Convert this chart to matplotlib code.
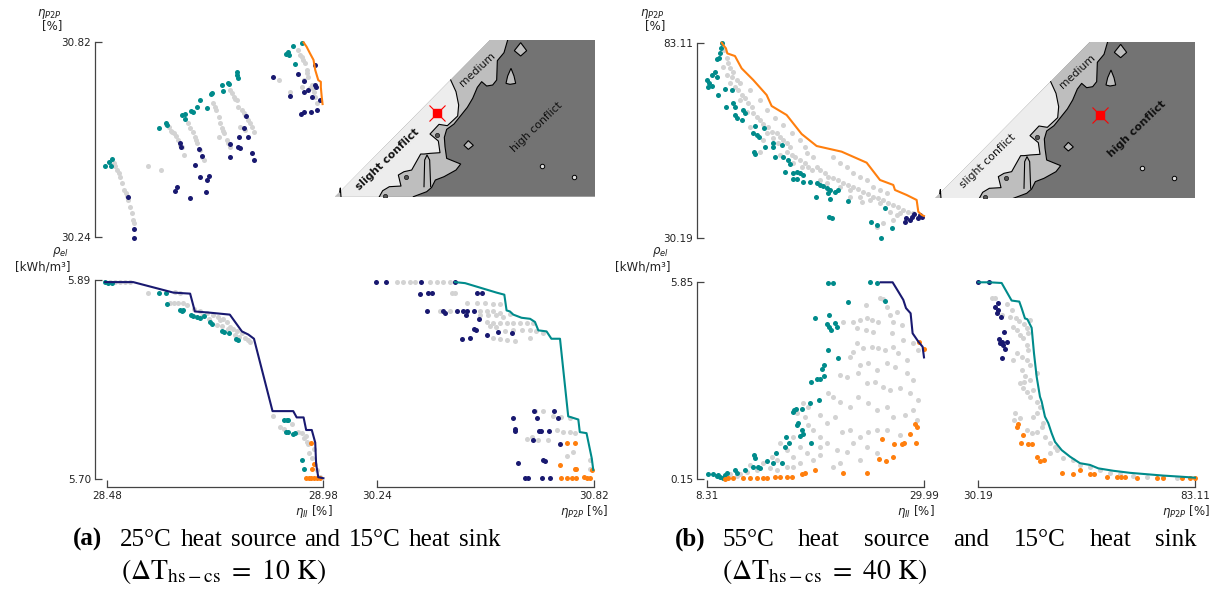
import matplotlib
matplotlib.use('Agg')
import matplotlib.pyplot as plt

W, H = 1220, 590
GRAY = '#d3d3d3'; TEAL = '#008b8b'; NAVY = '#191970'; ORANGE = '#ff7f0e'
DARK = '#737373'; MED = '#bebebe'; LIGHT = '#ededed'

# ---------------- panel (a) : upper scatter (eta_II vs eta_P2P) ----------------
a_tl_gray_x = [28.495,28.499,28.502,28.506,28.510,28.514,28.518,28.524,28.526,28.529,28.533,28.537,28.539,28.541,28.574,28.605,
               28.622,28.627,28.634,28.639,28.645,28.653,28.657,28.615,28.630,28.648,
               28.668,28.672,28.678,28.684,28.686,28.689,28.695,28.699,28.703,
               28.726,28.732,28.738,28.742,28.745,28.751,28.757,28.738,28.765,28.730,28.748,28.760,
               28.765,28.773,28.781,28.784,28.792,28.800,28.807,28.815,28.819,28.788,28.800,28.769,28.777,28.796,28.811,
               28.923,28.931,28.938,28.942,28.946,28.936,28.954,28.958,28.962,28.950,28.904,28.877,28.931,28.966,28.927,28.934,28.944,28.956]
a_tl_gray_y = [30.459,30.450,30.440,30.430,30.420,30.400,30.380,30.370,30.361,30.351,30.331,30.311,30.291,30.282,30.450,30.440,
               30.568,30.556,30.548,30.540,30.529,30.509,30.484,30.575,30.552,30.515,
               30.578,30.563,30.553,30.538,30.528,30.519,30.499,30.479,30.469,
               30.637,30.617,30.598,30.578,30.563,30.548,30.529,30.538,30.509,30.625,30.555,30.520,
               30.677,30.657,30.647,30.627,30.617,30.603,30.588,30.568,30.553,30.568,30.558,30.668,30.650,30.610,30.578,
               30.795,30.774,30.756,30.736,30.716,30.706,30.692,30.672,30.655,30.682,30.672,30.706,30.685,30.637,30.780,30.765,30.726,30.682]
a_tl_teal_x = [28.475,28.483,28.491,28.489,28.600,28.616,28.618,28.653,28.659,28.674,28.678,28.661,28.695,28.689,28.711,28.721,28.723,
               28.746,28.759,28.761,28.749,28.780,28.782,28.781,28.911,28.894,28.901,28.898,28.931,28.915]
a_tl_teal_y = [30.450,30.464,30.471,30.452,30.563,30.580,30.573,30.603,30.606,30.615,30.611,30.592,30.647,30.627,30.624,30.664,30.669,
               30.692,30.699,30.695,30.675,30.731,30.711,30.722,30.808,30.785,30.780,30.790,30.817,30.754]
a_tl_navy_x = [28.527,28.541,28.543,28.649,28.651,28.641,28.637,28.671,28.709,28.692,28.699,28.684,28.695,28.715,28.711,28.765,28.784,
               28.788,28.765,28.801,28.796,28.786,28.815,28.820,28.807,28.864,28.922,28.937,28.962,28.962,28.964,28.935,28.946,28.954,
               28.904,28.973,28.928,28.937,28.952,28.967]
a_tl_navy_y = [30.359,30.264,30.238,30.519,30.507,30.388,30.376,30.356,30.374,30.501,30.482,30.454,30.420,30.422,30.410,30.517,30.509,
               30.504,30.479,30.601,30.563,30.538,30.489,30.469,30.536,30.716,30.724,30.703,30.751,30.692,30.685,30.672,30.677,30.655,
               30.660,30.647,30.606,30.611,30.611,30.617]
a_tl_front_x = [28.935,28.942,28.950,28.958,28.962,28.969,28.975,28.975,28.977,28.979]
a_tl_front_y = [30.818,30.805,30.785,30.766,30.736,30.706,30.701,30.685,30.657,30.635]

# ---------------- panel (a) : lower-left (eta_II vs rho_el) ----------------
a_bl_gray_x = [28.486,28.498,28.509,28.521,28.533,28.575,28.637,28.649,28.625,28.635,28.645,28.656,28.695,28.710,28.726,28.737,
               28.749,28.757,28.741,28.734,28.764,28.772,28.780,28.792,28.799,28.807,28.811,28.863,28.907,28.923,28.931,28.941,
               28.942,28.946,28.958,28.962,28.965,28.972,28.665,28.680,28.700,28.715,28.745,28.760,28.775,28.785,28.880,28.890,
               28.935,28.948,28.955]
a_bl_gray_y = [5.888,5.888,5.888,5.888,5.888,5.878,5.879,5.878,5.868,5.868,5.868,5.868,5.860,5.859,5.857,5.855,
               5.853,5.850,5.852,5.847,5.845,5.843,5.841,5.839,5.835,5.833,5.831,5.760,5.753,5.745,5.744,5.741,
               5.736,5.734,5.729,5.715,5.709,5.702,5.866,5.862,5.856,5.853,5.846,5.843,5.838,5.836,5.750,5.748,
               5.739,5.725,5.720]
a_bl_teal_x = [28.475,28.482,28.490,28.600,28.615,28.618,28.649,28.652,28.656,28.673,28.678,28.689,28.695,28.704,28.718,28.723,
               28.745,28.751,28.761,28.778,28.782,28.890,28.896,28.900,28.894,28.900,28.911,28.915,28.931,28.935]
a_bl_teal_y = [5.888,5.887,5.887,5.878,5.878,5.867,5.861,5.860,5.861,5.857,5.856,5.855,5.854,5.856,5.850,5.848,
               5.841,5.840,5.839,5.834,5.833,5.757,5.757,5.757,5.745,5.745,5.743,5.744,5.718,5.710]
a_bl_orange_x = [28.952,28.960,28.954,28.941,28.947,28.953,28.959,28.965,28.973]
a_bl_orange_y = [5.735,5.715,5.710,5.701,5.701,5.701,5.701,5.701,5.701]
a_bl_front_x = [28.475,28.540,28.633,28.672,28.683,28.714,28.764,28.792,28.807,28.820,28.863,28.911,28.919,28.935,28.941,
                28.954,28.962,28.964,28.969,28.981]
a_bl_front_y = [5.888,5.888,5.878,5.877,5.860,5.859,5.857,5.841,5.838,5.834,5.765,5.765,5.759,5.759,5.747,
                5.747,5.735,5.715,5.702,5.701]

# ---------------- panel (a) : lower-right (eta_P2P vs rho_el) ----------------
a_br_gray_x = [30.292,30.310,30.327,30.341,30.381,30.399,30.417,30.434,30.439,30.448,30.479,30.506,30.528,30.550,30.568,
               30.408,30.434,30.515,30.533,30.550,30.568,30.515,30.537,30.559,30.577,30.595,30.533,30.550,30.568,30.586,
               30.604,30.622,30.640,30.657,30.541,30.559,30.582,30.604,30.626,30.649,30.666,30.684,30.550,30.568,30.586,
               30.608,30.649,30.662,30.684,30.711,30.733,30.756,30.720,30.738,30.756,30.769,30.640,30.671,30.698,30.653,
               30.747,30.764,30.809,30.809]
a_br_gray_y = [5.888,5.888,5.888,5.888,5.888,5.888,5.888,5.888,5.878,5.878,5.868,5.868,5.868,5.867,5.867,
               5.860,5.860,5.860,5.860,5.860,5.859,5.857,5.857,5.857,5.855,5.858,5.850,5.849,5.849,5.849,
               5.849,5.849,5.849,5.849,5.846,5.845,5.841,5.842,5.842,5.842,5.841,5.839,5.835,5.834,5.833,
               5.832,5.835,5.765,5.765,5.760,5.759,5.758,5.747,5.745,5.745,5.744,5.738,5.737,5.737,5.740,
               5.722,5.726,5.718,5.710]
a_br_navy_x = [30.236,30.263,30.357,30.448,30.354,30.376,30.386,30.508,30.519,30.374,30.415,30.421,30.452,30.470,30.481,
               30.500,30.477,30.512,30.500,30.504,30.467,30.488,30.533,30.564,30.600,30.602,30.608,30.609,30.659,30.668,
               30.672,30.677,30.700,30.714,30.724,30.656,30.729,30.616,30.684,30.690,30.635,30.644,30.682,30.702]
a_br_navy_y = [5.888,5.888,5.888,5.888,5.877,5.878,5.878,5.878,5.878,5.860,5.860,5.859,5.860,5.860,5.860,
               5.860,5.857,5.853,5.843,5.842,5.834,5.835,5.838,5.840,5.839,5.758,5.748,5.746,5.765,5.758,
               5.746,5.746,5.746,5.765,5.758,5.737,5.734,5.716,5.718,5.717,5.701,5.701,5.701,5.701]
a_br_orange_x = [30.749,30.769,30.729,30.769,30.773,30.731,30.747,30.760,30.772,30.792,30.800,30.809,30.815]
a_br_orange_y = [5.735,5.735,5.714,5.710,5.710,5.701,5.701,5.701,5.701,5.702,5.701,5.701,5.709]
a_br_front_x = [30.448,30.475,30.559,30.580,30.586,30.595,30.604,30.626,30.649,30.662,30.671,30.693,30.706,30.729,30.751,
                30.778,30.782,30.800,30.814,30.818]
a_br_front_y = [5.888,5.887,5.878,5.876,5.861,5.860,5.857,5.854,5.853,5.850,5.842,5.841,5.834,5.834,5.760,
                5.757,5.745,5.744,5.720,5.709]

# ---------------- panel (b) : upper scatter (eta_II vs eta_P2P) ----------------
b_tl_gray_x = [9.98,10.24,10.41,10.58,10.91,10.74,11.24,11.58,10.58,11.41,11.74,12.08,12.41,12.75,12.25,12.91,13.25,13.58,
               13.91,14.41,14.75,15.25,15.58,15.91,16.25,16.58,14.25,14.91,15.41,16.25,16.75,17.08,17.58,18.08,18.41,18.75,
               19.25,19.58,20.08,20.42,20.92,21.42,21.92,22.42,22.92,23.42,23.92,24.42,24.92,25.42,25.92,26.42,26.92,27.42,
               27.92,28.42,28.92,20.92,21.58,22.25,22.92,23.58,24.25,24.92,25.59,26.25,18.25,18.92,16.91,17.75,19.58,20.25,
               21.58,22.58,23.58,24.58,25.59,26.59,27.59,9.91,10.24,11.08,12.58,13.58,14.25,15.08,15.91,16.75,17.58,18.08,
               25.25,25.92,26.92,27.25,23.75,22.58,15.58,13.91,13.58,12.58,11.58]
b_tl_gray_y = [81.13,78.87,77.52,76.17,75.27,73.91,73.01,72.11,72.11,70.31,68.96,68.05,66.70,65.80,64.45,63.98,63.10,62.19,
               61.11,60.39,59.04,58.59,57.69,56.79,55.89,54.98,58.59,57.24,55.89,53.63,52.73,52.28,51.38,50.47,49.57,48.67,
               49.57,48.67,47.77,46.87,46.42,45.97,45.25,44.62,44.17,43.44,42.81,42.18,41.47,41.01,40.56,39.66,39.21,38.58,
               37.85,37.40,36.95,52.28,50.47,49.57,47.77,46.87,45.97,44.17,43.26,42.36,53.18,52.28,50.47,49.57,45.97,45.07,
               44.17,43.26,41.47,40.56,39.66,37.40,36.95,76.62,74.36,71.21,70.31,67.60,64.90,62.64,60.84,58.59,56.79,54.98,
               33.35,34.25,35.15,36.50,40.11,41.47,52.73,56.79,53.63,60.39,67.60]
b_tl_teal_x = [9.744,9.644,9.577,9.511,9.311,9.077,8.744,9.244,8.310,8.510,8.744,8.410,9.411,10.078,10.745,10.178,10.911,
               11.078,11.245,11.078,11.912,12.079,11.745,13.079,13.980,12.912,13.246,13.513,14.080,14.847,14.913,15.747,
               12.979,13.079,15.080,15.914,16.414,16.581,16.081,16.914,17.248,17.581,17.915,16.914,17.248,17.915,18.582,
               19.249,19.582,19.916,20.249,20.583,21.083,21.417,20.416,20.583,19.182,22.417,26.086,20.516,20.816,24.652,
               25.252,26.753,25.652]
b_tl_teal_y = [82.93,81.58,80.22,78.87,78.60,75.27,74.36,73.91,73.01,72.11,71.39,71.03,68.96,70.49,70.31,65.62,66.70,
               65.62,62.64,63.55,64.90,63.98,62.19,60.57,59.94,58.59,58.14,57.69,54.80,56.06,54.98,55.43,
               53.63,53.00,52.10,52.28,51.38,50.29,48.22,47.77,48.22,47.77,47.32,46.15,46.15,45.52,45.52,
               45.07,44.62,44.35,43.71,43.26,42.81,43.26,42.36,40.83,41.28,40.38,38.30,36.05,35.78,34.70,
               33.80,32.89,30.19]
b_tl_navy_x = [28.087,28.187,28.587,28.820,28.987,29.354,29.754,29.587]
b_tl_navy_y = [34.70,35.60,35.15,36.05,36.77,35.60,35.87,36.50]
b_tl_front_x = [9.744,9.911,10.178,10.311,11.078,11.745,12.412,12.912,14.246,14.747,16.247,17.748,19.249,21.750,24.251,
                25.585,26.919,27.086,28.253,29.254,29.420,29.754,29.988]
b_tl_front_y = [83.11,82.48,81.58,80.22,79.50,76.17,74.36,73.01,68.96,65.98,63.55,58.41,55.16,53.63,50.65,
                45.97,44.62,43.26,41.91,40.56,37.40,36.50,36.23]

# ---------------- panel (b) : lower-left (eta_II vs rho_el) ----------------
b_bl_gray_x = [25.59,25.92,24.18,26.25,27.25,26.59,23.58,24.25,24.75,25.42,22.92,21.85,23.32,24.18,24.92,26.92,27.75,26.75,
               27.92,28.92,29.42,23.32,23.92,24.75,25.42,26.09,26.92,27.42,28.25,22.92,22.58,23.58,24.42,25.25,26.25,27.09,
               28.25,28.92,21.58,22.25,23.42,24.25,25.08,25.92,26.59,27.59,28.59,29.42,20.42,20.92,21.58,22.58,23.42,24.42,
               25.25,26.25,26.92,28.09,28.92,29.25,19.58,20.25,21.08,21.75,22.58,23.58,24.42,25.25,26.25,27.59,18.08,18.41,
               18.92,19.58,20.25,21.25,22.25,23.58,25.25,16.91,17.58,18.25,18.92,19.58,20.92,21.58,15.58,16.25,16.91,17.58,
               14.75,15.25,13.91,14.58,15.25,16.25,16.91,12.58,13.25,12.25,11.58,10.58,11.24,19.58,22.92,24.25,17.25,17.91,
               18.41]
b_bl_gray_y = [5.40,5.36,5.19,5.12,5.00,4.90,4.76,4.80,4.76,4.71,4.71,4.71,4.51,4.47,4.42,4.71,4.61,4.37,
               4.18,4.08,3.89,4.10,3.93,3.98,3.93,3.89,3.98,3.79,3.60,3.84,3.69,3.45,3.50,3.30,3.50,3.40,
               3.21,3.01,3.16,3.11,3.21,2.92,2.97,2.82,2.72,2.77,2.63,2.43,2.63,2.53,2.39,2.24,2.53,2.34,
               2.14,2.24,1.95,2.00,2.14,1.85,2.00,1.76,1.95,1.51,1.56,1.37,1.51,1.56,1.56,1.42,1.95,1.71,
               1.56,1.37,1.18,0.98,0.93,0.69,0.89,1.37,1.08,0.89,0.69,0.84,0.50,0.60,1.18,0.98,0.79,0.60,
               0.79,0.69,0.60,0.45,0.40,0.50,0.50,0.55,0.40,0.35,0.30,0.30,0.24,1.08,1.18,1.08,2.05,2.34,
               2.24]
b_bl_teal_x = [20.42,20.85,22.42,19.08,20.52,20.32,20.52,20.65,21.08,21.32,24.58,25.25,26.09,20.42,21.42,19.98,19.75,19.98,
               19.25,19.58,18.65,19.52,18.58,16.98,16.85,17.18,17.75,17.25,17.41,17.75,17.85,17.58,18.65,16.15,16.51,16.08,
               15.18,14.25,14.91,15.75,12.98,13.08,12.91,13.41,13.58,12.08,11.08,11.24,10.24,10.08,8.41,8.91,9.41,9.58,
               9.91,9.24]
b_bl_teal_y = [5.82,5.82,5.29,4.80,4.90,4.64,4.54,4.47,4.68,4.56,5.85,5.84,5.32,3.89,3.64,3.45,3.32,3.13,
               3.03,3.04,2.96,2.43,2.36,2.14,2.10,2.16,2.16,1.71,1.76,1.56,1.45,1.39,1.20,1.35,1.20,1.08,
               0.89,0.67,0.62,0.60,0.84,0.74,0.50,0.50,0.45,0.40,0.40,0.32,0.32,0.26,0.28,0.28,0.26,0.21,
               0.17,0.23]
b_bl_orange_x = [29.52,29.99,29.09,29.32,29.19,28.59,27.99,27.75,26.99,25.75,25.52,26.19,26.92,24.25,21.92,19.08,18.08,
                 17.75,16.75,16.25,15.58,15.08,14.25,13.91,13.25,12.58,11.91,10.91,10.41,10.08]
b_bl_orange_y = [4.13,3.90,1.74,1.66,1.20,1.45,1.20,1.16,1.16,1.29,0.71,0.67,0.79,0.32,0.32,0.40,0.32,
                 0.28,0.21,0.21,0.21,0.21,0.17,0.17,0.17,0.17,0.17,0.17,0.17,0.15]
b_bl_front_x = [25.65,26.85,27.42,27.92,28.19,28.65,28.85,29.42,29.85,29.99]
b_bl_front_y = [5.85,5.85,5.58,5.34,5.10,4.95,4.37,4.13,3.98,3.67]

# ---------------- panel (b) : lower-right (eta_P2P vs rho_el) ----------------
b_br_gray_x = [33.45,34.26,37.11,35.89,37.92,39.39,40.20,41.34,41.99,42.40,38.74,39.72,40.37,41.18,41.99,42.40,39.55,40.77,
               41.99,42.81,40.77,41.59,40.37,41.18,41.99,43.62,42.81,44.44,45.25,44.44,39.15,38.90,40.37,41.99,43.22,44.44,
               45.66,46.47,47.70,49.32,47.70,50.95,53.39,55.02,57.47,59.91,62.35,64.79,68.05,71.31,75.38,78.63,38.74,41.34,
               43.62,46.07,48.92,44.44,42.81,38.33,42.81]
b_br_gray_y = [5.40,5.39,5.22,4.90,4.85,4.80,4.74,4.64,4.51,4.39,4.56,4.47,4.32,4.22,4.03,3.89,3.79,3.69,
               3.60,3.45,3.30,3.13,2.92,2.77,2.68,2.72,2.53,2.39,2.24,2.05,2.05,1.85,1.90,1.56,1.47,1.51,
               1.66,1.37,1.18,0.98,0.89,0.74,0.69,0.55,0.50,0.40,0.32,0.29,0.23,0.21,0.19,0.18,3.60,2.97,
               1.95,1.76,1.08,3.21,3.01,5.05,4.76]
b_br_navy_x = [30.19,32.88,35.07,34.26,35.07,34.67,35.64,36.46,35.32,35.89,36.30,37.27,36.70,35.89,35.48]
b_br_navy_y = [5.85,5.85,5.26,5.14,5.05,4.95,4.85,4.40,4.20,4.13,4.04,4.13,3.90,3.66,4.08]
b_br_orange_x = [39.96,39.72,41.18,40.53,42.40,43.22,44.44,45.25,46.23,50.55,53.39,55.02,57.47,58.44,61.54,63.98,64.96,
                 66.01,68.86,73.75,75.38,79.86,81.89,83.11]
b_br_orange_y = [1.74,1.64,1.42,1.20,1.16,1.16,0.79,0.67,0.69,0.32,0.30,0.40,0.30,0.30,0.21,0.21,0.21,
                 0.21,0.16,0.16,0.16,0.16,0.16,0.16]
b_br_front_x = [30.19,32.88,35.89,38.33,40.20,40.77,41.59,42.16,43.22,43.79,44.44,45.25,45.66,46.47,47.29,48.10,48.92,
                50.55,52.58,55.02,57.47,59.50,63.16,67.24,71.31,75.38,79.45,83.11]
b_br_front_y = [5.85,5.85,5.83,5.32,5.29,5.10,4.80,4.78,4.53,3.79,3.11,2.53,2.39,1.95,1.76,1.47,1.22,
                0.98,0.79,0.60,0.55,0.45,0.38,0.32,0.28,0.24,0.21,0.18]

# ---------------- conflict map outlines (map grid units) ----------------
map_region_u = [15, 480, 795, 795]
map_region_v = [500, 30, 30, 500]
map_md_u = [533,522,502,500,488,470,455,442,428,412,388,372,350,343,345,350,392,378,342,316,305,290,250]
map_md_v = [30,68,92,150,165,168,155,172,205,232,262,282,298,322,350,385,402,420,440,450,472,485,500]
map_lm_u = [362,378,386,383,352,327,300,325,330,300,282,272,245,222,205,213,178,158,148]
map_lm_v = [150,185,225,258,287,283,312,333,368,370,372,372,420,425,435,468,470,482,500]
map_finger_u = [282,284,291,299,302]
map_finger_v = [470,390,375,390,470]
map_corner_u = [15,29,31,33]
map_corner_v = [500,486,474,500]
map_islands = [([572,590,572,553], [38,62,78,62]),
               ([543,552,557,540,528,533], [115,138,160,163,160,138]),
               ([415,430,415,402], [332,346,358,346])]
map_rings_u = [636, 732]
map_rings_v = [408, 440]
map_dots_u = [322, 228, 165]
map_dots_v = [315, 440, 497]

fig = plt.figure(figsize=(W / 100, H / 100), dpi=100)


def px_axes(l, t, r, b):
    ax = fig.add_axes([l / W, 1 - b / H, (r - l) / W, (b - t) / H])
    ax.set_facecolor('none')
    return ax


def lin(p, p0, v0, p1, v1):
    return v0 + (p - p0) * (v1 - v0) / (p1 - p0)


def scatter_axes(box, xmap, ymap, show_x, show_y):
    l, t, r, b = box
    ax = px_axes(l, t, r, b)
    ax.set_xlim(lin(l, *xmap), lin(r, *xmap))
    ax.set_ylim(lin(b, *ymap), lin(t, *ymap))
    for s in ['top', 'right']:
        ax.spines[s].set_visible(False)
    for s in ['left', 'bottom']:
        ax.spines[s].set_color('#444444')
        ax.spines[s].set_linewidth(0.9)
    ax.tick_params(direction='in', length=5, width=0.9, color='#444444',
                   labelsize=7.5, pad=3, labelcolor='#222222')
    if show_x:
        xt = [xmap[1], xmap[3]]
        ax.set_xticks(xt)
        ax.set_xticklabels([f'{v:.2f}' for v in xt])
        ax.spines['bottom'].set_bounds(xt[0], xt[1])
    else:
        ax.spines['bottom'].set_visible(False)
        ax.set_xticks([])
    if show_y:
        yt = [ymap[3], ymap[1]]
        ax.set_yticks(yt)
        ax.set_yticklabels([f'{v:.2f}' for v in yt])
        ax.spines['left'].set_bounds(yt[0], yt[1])
    else:
        ax.spines['left'].set_visible(False)
        ax.set_yticks([])
    return ax


def dots(ax, x, y, c, z):
    ax.scatter(x, y, s=13, c=c, linewidths=0, zorder=z, clip_on=False)


def front(ax, x, y, c):
    ax.plot(x, y, color=c, lw=1.5, zorder=5, clip_on=False, solid_joinstyle='round')


def conflict_map(box, mark, bold_slight):
    ax = px_axes(*box)
    ax.set_xlim(15, 795)
    ax.set_ylim(500, 30)
    ax.axis('off')
    ax.fill(map_region_u, map_region_v, color=DARK, lw=0, zorder=1)
    ax.fill([480] + map_md_u + [15], [30] + map_md_v + [500], color=MED, lw=0, zorder=2)
    ax.fill(map_lm_u + [15], map_lm_v + [500], color=LIGHT, lw=0, zorder=3)
    ax.fill(map_finger_u, map_finger_v, color=MED, lw=0, zorder=3.5)
    ax.plot(map_finger_u, map_finger_v, color='k', lw=0.8, zorder=4)
    ax.fill(map_corner_u, map_corner_v, color=MED, lw=0, zorder=3.5)
    ax.plot(map_corner_u[1:], map_corner_v[1:], color='k', lw=0.8, zorder=4)
    ax.plot(map_md_u, map_md_v, color='k', lw=0.8, zorder=4)
    ax.plot(map_lm_u, map_lm_v, color='k', lw=0.8, zorder=4)
    for iu, iv in map_islands:
        ax.fill(iu, iv, facecolor=MED, edgecolor='k', lw=0.8, zorder=5)
    ax.plot(map_rings_u, map_rings_v, 'o', ms=3.2, mfc='#e0e0e0', mec='k', mew=0.7, zorder=5)
    ax.plot(map_dots_u, map_dots_v, 'o', ms=3.0, mfc='#555555', mec='#222222', mew=0.6, zorder=5)
    ax.plot([mark[0]], [mark[1]], 'x', ms=11, mew=0.8, color='red', zorder=6)
    ax.plot([mark[0]], [mark[1]], 's', ms=5.5, color='red', zorder=7)
    ax.text(172, 388, 'slight conflict', rotation=44, rotation_mode='anchor', ha='center', va='center',
            fontsize=7.8, fontweight='bold' if bold_slight else 'normal', color='#111111', zorder=8)
    ax.text(442, 118, 'medium', rotation=43, rotation_mode='anchor', ha='center', va='center',
            fontsize=7.8, color='#111111', zorder=8)
    ax.text(620, 292, 'high conflict', rotation=44, rotation_mode='anchor', ha='center', va='center',
            fontsize=7.8, fontweight='normal' if bold_slight else 'bold', color='#111111', zorder=8)


# ---------------- panel (a) ----------------
xa = (107.3, 28.48, 323.0, 28.98)
ax = scatter_axes((95, 30, 335, 245), xa, (41.7, 30.82, 237.3, 30.24), False, True)
dots(ax, a_tl_gray_x, a_tl_gray_y, GRAY, 2)
dots(ax, a_tl_teal_x, a_tl_teal_y, TEAL, 3)
dots(ax, a_tl_navy_x, a_tl_navy_y, NAVY, 3)
front(ax, a_tl_front_x, a_tl_front_y, ORANGE)

ya = (280.0, 5.89, 479.3, 5.70)
ax = scatter_axes((95, 270, 335, 487.3), xa, ya, True, True)
dots(ax, a_bl_gray_x, a_bl_gray_y, GRAY, 2)
dots(ax, a_bl_teal_x, a_bl_teal_y, TEAL, 3)
dots(ax, a_bl_orange_x, a_bl_orange_y, ORANGE, 3)
front(ax, a_bl_front_x, a_bl_front_y, NAVY)

ax = scatter_axes((360, 270, 610, 487.3), (377.3, 30.24, 594.0, 30.82), ya, True, False)
dots(ax, a_br_gray_x, a_br_gray_y, GRAY, 2)
dots(ax, a_br_navy_x, a_br_navy_y, NAVY, 3)
dots(ax, a_br_orange_x, a_br_orange_y, ORANGE, 3)
front(ax, a_br_front_x, a_br_front_y, TEAL)

conflict_map((335, 40, 595, 196.7), (322, 250), True)

# ---------------- panel (b) ----------------
xb = (707.3, 8.31, 924.0, 29.99)
ax = scatter_axes((697.3, 30, 935, 245), xb, (42.7, 83.11, 238.3, 30.19), False, True)
dots(ax, b_tl_gray_x, b_tl_gray_y, GRAY, 2)
dots(ax, b_tl_teal_x, b_tl_teal_y, TEAL, 3)
dots(ax, b_tl_navy_x, b_tl_navy_y, NAVY, 3)
front(ax, b_tl_front_x, b_tl_front_y, ORANGE)

yb = (282.3, 5.85, 478.7, 0.15)
ax = scatter_axes((697.3, 270, 935, 487.3), xb, yb, True, True)
dots(ax, b_bl_gray_x, b_bl_gray_y, GRAY, 2)
dots(ax, b_bl_teal_x, b_bl_teal_y, TEAL, 3)
dots(ax, b_bl_orange_x, b_bl_orange_y, ORANGE, 3)
front(ax, b_bl_front_x, b_bl_front_y, NAVY)

ax = scatter_axes((960, 270, 1215, 487.3), (978.3, 30.19, 1195.0, 83.11), yb, True, False)
dots(ax, b_br_gray_x, b_br_gray_y, GRAY, 2)
dots(ax, b_br_navy_x, b_br_navy_y, NAVY, 3)
dots(ax, b_br_orange_x, b_br_orange_y, ORANGE, 3)
front(ax, b_br_front_x, b_br_front_y, TEAL)

conflict_map((935, 41.7, 1195, 198.3), (510, 250), False)

# ---------------- axis labels ----------------
def ftxt(x, y, s, **kw):
    kw.setdefault('fontsize', 8.5)
    kw.setdefault('color', '#222222')
    fig.text(x / W, 1 - y / H, s, **kw)

for (xr, yl) in [(62, 14), (665, 14)]:
    ftxt(xr, yl, r'$\eta_{P2P}$', ha='right', va='center')
    ftxt(xr, yl + 12, '[%]', ha='right', va='center')
for (xr, yl) in [(69, 252), (669, 252)]:
    ftxt(xr, yl, r'$\rho_{el}$', ha='right', va='center')
    ftxt(xr + 2, yl + 15, '[kWh/m³]', ha='right', va='center')
ftxt(333, 512, r'$\eta_{II}$ [%]', ha='right', va='center')
ftxt(608, 511, r'$\eta_{P2P}$ [%]', ha='right', va='center')
ftxt(935, 512, r'$\eta_{II}$ [%]', ha='right', va='center')
ftxt(1210, 511, r'$\eta_{P2P}$ [%]', ha='right', va='center')

# ---------------- captions ----------------
SERIF = 'Liberation Serif'
CS = 18
renderer = fig.canvas.get_renderer()


def word_line(words, x0, y, x1=None, gap=None):
    objs = [fig.text(0, 1 - y / H, w_, family=SERIF, fontsize=CS, va='baseline') for w_ in words]
    widths = [o.get_window_extent(renderer=renderer).width for o in objs]
    if gap is None:
        gap = (x1 - x0 - sum(widths)) / (len(words) - 1)
    cur = x0
    for o, wd in zip(objs, widths):
        o.set_x(cur / W)
        cur += wd + gap


cap_words_a = ['25°C', 'heat', 'source', 'and', '15°C', 'heat', 'sink']
cap_words_b = ['55°C', 'heat', 'source', 'and', '15°C', 'heat', 'sink']

fig.text(72.7 / W, 1 - 546 / H, '(a)', family=SERIF, fontweight='bold', fontsize=CS, va='baseline')
word_line(cap_words_a, 120.0, 546, gap=8.5)
fig.text(120.7 / W, 1 - 579 / H, r'$(\Delta\mathrm{T}_{\mathrm{hs-cs}}\ =\ 10\ \mathrm{K})$', math_fontfamily='stix',
         fontsize=20, va='baseline')

fig.text(675 / W, 1 - 546 / H, '(b)', family=SERIF, fontweight='bold', fontsize=CS, va='baseline')
word_line(cap_words_b, 722.0, 546, x1=1197.0)
fig.text(722 / W, 1 - 579 / H, r'$(\Delta\mathrm{T}_{\mathrm{hs-cs}}\ =\ 40\ \mathrm{K})$', math_fontfamily='stix',
         fontsize=20, va='baseline')

fig.savefig('out.png', dpi=100)
